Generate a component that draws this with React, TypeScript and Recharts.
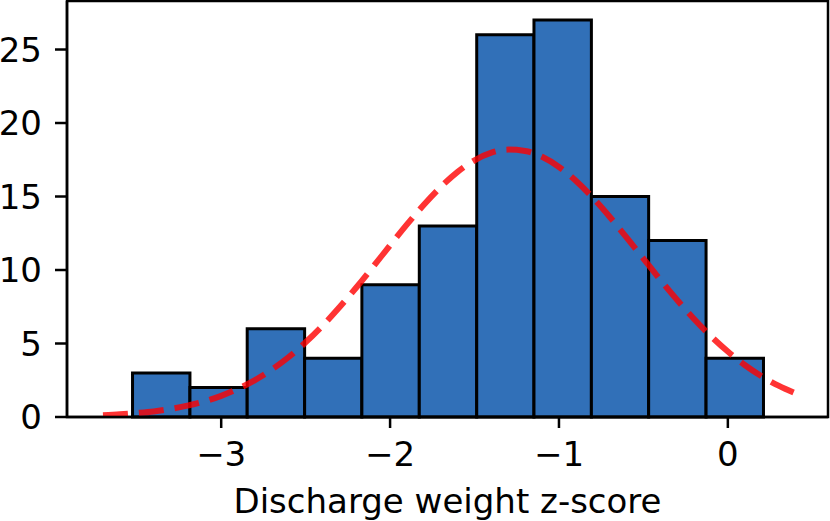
import React from 'react';
import {
  ComposedChart,
  Line,
  XAxis,
  YAxis,
  ReferenceArea,
  Label,
} from 'recharts';

// histogram bins (z-score edges) and counts
const binEdges = [-3.525, -3.185, -2.846, -2.506, -2.167, -1.827, -1.487, -1.148, -0.808, -0.469, -0.129, 0.211];
const binCounts = [3, 2, 6, 4, 9, 13, 26, 27, 15, 12, 4];

// fitted curve
const curveX = [
  -3.7, -3.6, -3.5, -3.4, -3.3, -3.2, -3.1, -3.0, -2.9, -2.8, -2.7, -2.6, -2.5, -2.4,
  -2.3, -2.2, -2.1, -2.0, -1.9, -1.8, -1.7, -1.6, -1.5, -1.4, -1.3, -1.2, -1.1, -1.0,
  -0.9, -0.8, -0.7, -0.6, -0.5, -0.4, -0.3, -0.2, -0.1, 0.0, 0.1, 0.2, 0.3, 0.4,
];
const curveY = [
  0.12, 0.18, 0.27, 0.38, 0.55, 0.77, 1.06, 1.44, 1.92, 2.51, 3.23, 4.08, 5.08, 6.21,
  7.46, 8.81, 10.23, 11.68, 13.1, 14.44, 15.65, 16.68, 17.46, 17.98, 18.19, 18.1, 17.7, 17.01,
  16.07, 14.92, 13.62, 12.22, 10.78, 9.34, 7.96, 6.67, 5.49, 4.45, 3.54, 2.77, 2.13, 1.61,
];

const xTicks = [-3, -2, -1, 0];
const yTicks = [0, 5, 10, 15, 20, 25];
const xDomain: [number, number] = [-3.913, 0.593];
const yDomain: [number, number] = [0, 28.3];

const curveData = curveX.map((x, i) => ({ x, y: curveY[i] }));

const FONT = '"DejaVu Sans", sans-serif';
const FONT_SIZE = 34;
const BAR_FILL = '#3170b8';

const fmtTick = (v: number) => (v < 0 ? `\u2212${Math.abs(v)}` : `${v}`);

export default function App() {
  return (
    <div style={{ position: 'absolute', left: 0, top: 0, width: 830, height: 521, background: '#fff' }}>
      <ComposedChart
        width={830}
        height={521}
        data={curveData}
        margin={{ top: 1, right: 2, bottom: 0, left: 0 }}
      >
        <XAxis
          dataKey="x"
          type="number"
          domain={xDomain}
          ticks={xTicks}
          allowDataOverflow
          tickFormatter={fmtTick}
          height={104}
          tickSize={11}
          tickMargin={14}
          tick={{ fill: '#000', fontSize: FONT_SIZE, fontFamily: FONT }}
          tickLine={{ stroke: '#000', strokeWidth: 2.5 }}
          axisLine={{ stroke: '#000', strokeWidth: 2.5 }}
        >
          <Label
            value="Discharge weight z-score"
            position="insideBottom"
            offset={8}
            style={{ fill: '#000', fontSize: FONT_SIZE, fontFamily: FONT }}
          />
        </XAxis>
        <YAxis
          type="number"
          domain={yDomain}
          ticks={yTicks}
          allowDataOverflow
          width={67}
          tickSize={12}
          tickMargin={13}
          tick={{ fill: '#000', fontSize: FONT_SIZE, fontFamily: FONT }}
          tickLine={{ stroke: '#000', strokeWidth: 2.5 }}
          axisLine={{ stroke: '#000', strokeWidth: 2.5 }}
        />
        {binCounts.map((count, i) => (
          <ReferenceArea
            key={`bin-${i}`}
            x1={binEdges[i]}
            x2={binEdges[i + 1]}
            y1={0}
            y2={count}
            fill={BAR_FILL}
            fillOpacity={1}
            stroke="#000"
            strokeWidth={3}
          />
        ))}
        <ReferenceArea
          x1={xDomain[0]}
          x2={xDomain[1]}
          y1={yDomain[0]}
          y2={yDomain[1]}
          fill="none"
          stroke="#000"
          strokeWidth={2.5}
        />
        <Line
          dataKey="y"
          type="monotone"
          dot={false}
          activeDot={false}
          stroke="#ff0000"
          strokeOpacity={0.8}
          strokeWidth={6}
          strokeDasharray="25 11"
          isAnimationActive={false}
        />
      </ComposedChart>
    </div>
  );
}
